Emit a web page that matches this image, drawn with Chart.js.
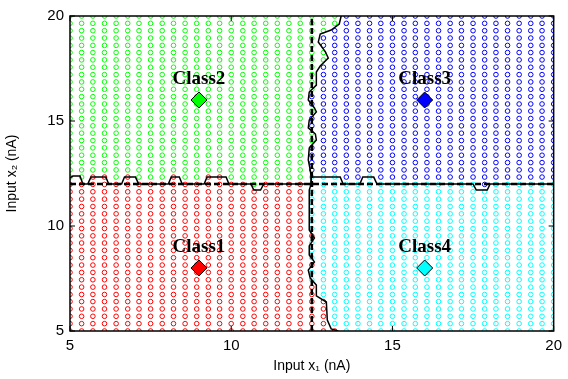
<!DOCTYPE html>
<html>
<head>
<meta charset="utf-8">
<script src="https://cdn.jsdelivr.net/npm/chart.js@4.4.1/dist/chart.umd.min.js"></script>
<style>html,body{margin:0;padding:0;background:#fff}</style>
</head>
<body>
<canvas id="classChart" width="568" height="379"></canvas>
<script>
// grid of test inputs (nA)
const gridX = [5.00, 5.36, 5.71, 6.07, 6.43, 6.79, 7.14, 7.50, 7.86, 8.21, 8.57, 8.93, 9.29, 9.64,
    10.00, 10.36, 10.71, 11.07, 11.43, 11.79, 12.14, 12.50, 12.86, 13.21, 13.57, 13.93, 14.29,
    14.64, 15.00, 15.36, 15.71, 16.07, 16.43, 16.79, 17.14, 17.50, 17.86, 18.21, 18.57, 18.93,
    19.29, 19.64, 20.00];
const gridY = [5.00, 5.35, 5.70, 6.05, 6.40, 6.74, 7.09, 7.44, 7.79, 8.14, 8.49, 8.84, 9.19, 9.53,
    9.88, 10.23, 10.58, 10.93, 11.28, 11.63, 11.98, 12.33, 12.67, 13.02, 13.37, 13.72, 14.07,
    14.42, 14.77, 15.12, 15.47, 15.81, 16.16, 16.51, 16.86, 17.21, 17.56, 17.91, 18.26, 18.60,
    18.95, 19.30, 19.65, 20.00];

// class centres
const classNames = ['Class1', 'Class2', 'Class3', 'Class4'];
const classX = [9, 9, 16, 16];
const classY = [8, 16, 16, 8];
const classColors = ['#ff0000', '#00ff00', '#0000ff', '#00ffff'];

// learned decision boundary (solid line)
const hBoundX = [5.00, 5.09, 5.31, 5.40, 5.55, 5.65, 6.11, 6.20, 6.60, 6.69, 7.03, 7.13, 8.05, 8.14,
    8.39, 8.48, 9.16, 9.25, 9.84, 9.93, 10.61, 10.70, 10.91, 11.01, 12.48,
    12.48, 13.38, 13.47, 13.99, 14.08, 14.42, 14.52, 17.50, 17.60, 17.94, 18.03, 20.00];
const hBoundY = [12.29, 12.38, 12.38, 12.00, 12.00, 12.33, 12.33, 12.00, 12.00, 12.33, 12.33, 12.00,
    12.00, 12.33, 12.33, 12.00, 12.00, 12.33, 12.33, 12.00, 12.00, 11.71, 11.71, 12.00, 12.00,
    12.33, 12.33, 12.00, 12.00, 12.33, 12.33, 12.00, 12.00, 11.71, 11.71, 12.00, 12.00];
const vBoundX = [13.41, 13.35, 13.10, 12.76, 12.70, 12.92, 13.01, 12.76, 12.64, 12.64, 12.42, 12.39,
    12.58, 12.64, 12.42, 12.39, 12.61, 12.64, 12.42, 12.39, 12.45, 12.48, 12.48, 12.42, 12.42,
    12.58, 12.42, 12.42, 12.58, 12.39, 12.45, 12.64, 12.64, 12.95, 12.98, 13.10, 13.32];
const vBoundY = [20.00, 19.62, 19.33, 19.14, 18.76, 18.29, 18.00, 17.62, 17.33, 16.71, 16.38, 16.00,
    15.62, 15.43, 15.05, 14.67, 14.38, 14.10, 13.71, 13.14, 12.67, 12.33, 12.00, 11.71, 9.81,
    9.43, 9.05, 8.62, 8.29, 7.90, 7.52, 7.19, 6.67, 6.38, 5.52, 5.10, 5.00];

// target boundary (dashed)
const targetX = 12.5;
const targetY = 12;

const axisTicks = [5, 10, 15, 20];

function interp(ks, vs, k) {
    for (let i = 0; i < ks.length - 1; i++) {
        const a = ks[i], b = ks[i + 1];
        if (k >= Math.min(a, b) && k <= Math.max(a, b)) {
            if (a === b) return vs[i];
            return vs[i] + (vs[i + 1] - vs[i]) * (k - a) / (b - a);
        }
    }
    return vs[vs.length - 1];
}

// sort grid points into the four classes
const classPoints = [[], [], [], []];
gridY.forEach(y => {
    gridX.forEach(x => {
        const upper = y > interp(hBoundX, hBoundY, x);
        const right = x > interp(vBoundY, vBoundX, y);
        let c = 0;
        if (upper && !right) c = 1;
        else if (upper && right) c = 2;
        else if (!upper && right) c = 3;
        classPoints[c].push({x: x, y: y});
    });
});

const toXY = (xs, ys) => xs.map((x, i) => ({x: x, y: ys[i]}));

const datasets = [];
classNames.forEach((name, i) => {
    datasets.push({
        label: name + ' centre',
        data: [{x: classX[i], y: classY[i]}],
        pointStyle: 'rectRot',
        pointRadius: 8,
        backgroundColor: classColors[i],
        borderColor: '#000',
        borderWidth: 1,
        order: 0
    });
});
datasets.push({
    label: 'boundary h',
    data: toXY(hBoundX, hBoundY),
    showLine: true,
    borderColor: '#000',
    borderWidth: 1.5,
    pointRadius: 0,
    order: 1
}, {
    label: 'boundary v',
    data: toXY(vBoundX, vBoundY),
    showLine: true,
    borderColor: '#000',
    borderWidth: 1.5,
    pointRadius: 0,
    order: 1
}, {
    label: 'target v',
    data: [{x: targetX, y: 5}, {x: targetX, y: 20}],
    showLine: true,
    borderColor: '#000',
    borderWidth: 2.5,
    borderDash: [6, 3],
    pointRadius: 0,
    order: 1
}, {
    label: 'target h',
    data: [{x: 5, y: targetY}, {x: 20, y: targetY}],
    showLine: true,
    borderColor: '#000',
    borderWidth: 2.5,
    borderDash: [6, 3],
    pointRadius: 0,
    order: 1
});
classNames.forEach((name, i) => {
    datasets.push({
        label: name,
        data: classPoints[i],
        pointStyle: 'circle',
        pointRadius: 2.3,
        borderWidth: 1,
        borderColor: classColors[i],
        backgroundColor: 'rgba(0,0,0,0)',
        order: 2
    });
});

// box + inward ticks, matlab style
const framePlugin = {
    id: 'frame',
    afterDatasetsDraw(chart) {
        const {ctx, chartArea: a, scales} = chart;
        ctx.save();
        ctx.strokeStyle = '#000';
        ctx.lineWidth = 1.5;
        ctx.strokeRect(a.left, a.top, a.right - a.left, a.bottom - a.top);
        ctx.lineWidth = 1;
        ctx.beginPath();
        axisTicks.forEach(t => {
            const px = scales.x.getPixelForValue(t);
            const py = scales.y.getPixelForValue(t);
            ctx.moveTo(px, a.bottom); ctx.lineTo(px, a.bottom - 5);
            ctx.moveTo(px, a.top); ctx.lineTo(px, a.top + 5);
            ctx.moveTo(a.left, py); ctx.lineTo(a.left + 5, py);
            ctx.moveTo(a.right, py); ctx.lineTo(a.right - 5, py);
        });
        ctx.stroke();
        ctx.restore();
    }
};

const labelPlugin = {
    id: 'classLabels',
    afterDatasetsDraw(chart) {
        const {ctx, scales} = chart;
        ctx.save();
        ctx.font = 'bold 19px "Liberation Serif", "Times New Roman", serif';
        ctx.fillStyle = '#000';
        ctx.textAlign = 'center';
        ctx.textBaseline = 'middle';
        classNames.forEach((name, i) => {
            const px = scales.x.getPixelForValue(classX[i]);
            const py = scales.y.getPixelForValue(classY[i]);
            ctx.fillText(name, px, py - 21);
        });
        ctx.restore();
    }
};

const tickFont = {family: '"Liberation Sans", Arial, sans-serif', size: 15};
const titleFont = {family: '"Liberation Sans", "DejaVu Sans", Arial, sans-serif', size: 14};

new Chart(document.getElementById('classChart').getContext('2d'), {
    type: 'scatter',
    data: {datasets: datasets},
    options: {
        responsive: false,
        animation: false,
        devicePixelRatio: 1,
        layout: {padding: {top: 16, right: 11, left: 0, bottom: 0}},
        plugins: {
            legend: {display: false},
            tooltip: {enabled: false}
        },
        scales: {
            x: {
                type: 'linear',
                min: 5,
                max: 20,
                afterBuildTicks: s => { s.ticks = axisTicks.map(v => ({value: v})); },
                afterFit: s => { s.height = 48; },
                grid: {display: false, drawTicks: false},
                border: {display: false},
                ticks: {color: '#000', font: tickFont, padding: 6},
                title: {display: true, text: 'Input x\u2081 (nA)', color: '#000', font: titleFont,
                    padding: {top: 2, bottom: 4}}
            },
            y: {
                type: 'linear',
                min: 5,
                max: 20,
                afterBuildTicks: s => { s.ticks = axisTicks.map(v => ({value: v})); },
                afterFit: s => { s.width = 70; },
                grid: {display: false, drawTicks: false},
                border: {display: false},
                ticks: {color: '#000', font: tickFont, padding: 6},
                title: {display: true, text: 'Input x\u2082 (nA)', color: '#000', font: titleFont,
                    padding: {top: 4, bottom: 2}}
            }
        }
    },
    plugins: [framePlugin, labelPlugin]
});
</script>
</body>
</html>
